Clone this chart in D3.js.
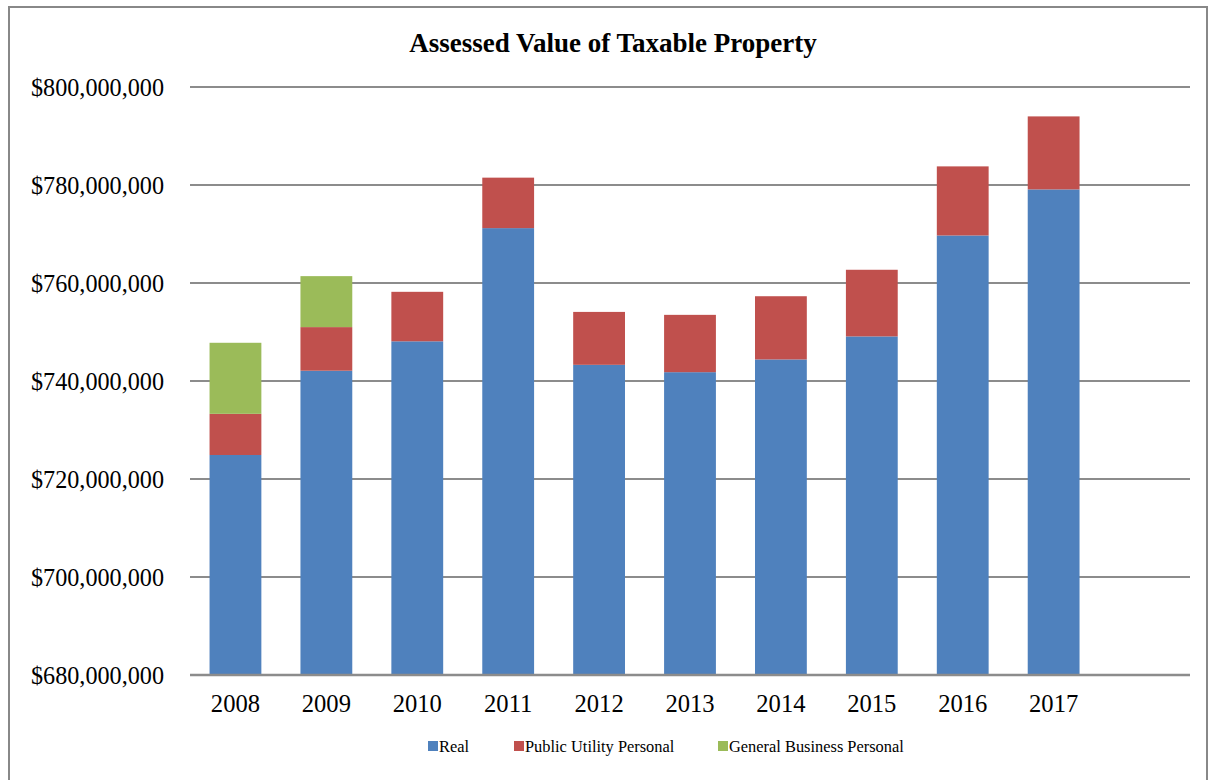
<!DOCTYPE html>
<html>
<head>
<meta charset="utf-8">
<script src="https://cdn.jsdelivr.net/npm/d3@7"></script>
<style>
  body { margin: 0; background: #fff; }
  text { font-family: "Liberation Serif", "Times New Roman", serif; fill: #000; }
</style>
</head>
<body>
<script>
// Les données
var years = ["2008", "2009", "2010", "2011", "2012", "2013", "2014", "2015", "2016", "2017"];
var real = [724.9, 742.1, 748.1, 771.2, 743.3, 741.8, 744.4, 749.1, 769.7, 779.1];
var publicUtility = [8.4, 8.9, 10.1, 10.3, 10.8, 11.7, 12.9, 13.6, 14.1, 14.9];
var generalBusiness = [14.5, 10.4, 0, 0, 0, 0, 0, 0, 0, 0];
var seriesNames = ["Real", "Public Utility Personal", "General Business Personal"];
var colors = ["#4F81BD", "#C0504D", "#9BBB59"];
var yTicks = [680, 700, 720, 740, 760, 780, 800];

var W = 1209, H = 780;
var margin = {top: 87, right: 19, bottom: 105, left: 190};
var width = W - margin.left - margin.right;
var height = H - margin.top - margin.bottom;

var svg = d3.select("body").append("svg")
            .attr("width", W)
            .attr("height", H);

// cadre
svg.append("rect")
   .attr("x", 9).attr("y", 7)
   .attr("width", 1198).attr("height", 780)
   .attr("fill", "none")
   .attr("stroke", "#888")
   .attr("stroke-width", 2);

svg.append("text")
   .attr("x", 613).attr("y", 52)
   .attr("text-anchor", "middle")
   .style("font-size", "27px")
   .style("font-weight", "bold")
   .text("Assessed Value of Taxable Property");

var g = svg.append("g")
           .attr("transform", "translate(" + margin.left + "," + margin.top + ")");

// une case vide après 2017
var x = d3.scaleBand()
          .domain(years.concat(["_"]))
          .range([0, width])
          .paddingInner(0.43)
          .paddingOuter(0.215);

var y = d3.scaleLinear()
          .domain([680, 800])
          .range([height, 0]);

// grille
g.selectAll(".grid")
 .data(yTicks)
 .enter().append("line")
 .attr("x1", 0).attr("x2", width)
 .attr("y1", d => y(d)).attr("y2", d => y(d))
 .attr("stroke", "#8c8c8c")
 .attr("stroke-width", 2);

// barres empilées
var table = years.map((yr, i) => ({year: yr, s0: real[i] - 680, s1: publicUtility[i], s2: generalBusiness[i]}));
var stack = d3.stack().keys(["s0", "s1", "s2"]);
var layers = stack(table);

g.selectAll(".layer")
 .data(layers)
 .enter().append("g")
 .attr("fill", (d, i) => colors[i])
 .selectAll("rect")
 .data(d => d.filter(p => p[1] > p[0]))
 .enter().append("rect")
 .attr("x", d => x(d.data.year))
 .attr("width", x.bandwidth())
 .attr("y", d => y(680 + d[1]))
 .attr("height", d => y(680 + d[0]) - y(680 + d[1]));

// axe Y
var fmt = d3.format(",");
var axeY = d3.axisLeft(y)
             .tickValues(yTicks)
             .tickSize(0)
             .tickPadding(26)
             .tickFormat(d => "$" + fmt(d * 1000000));
var gy = g.append("g").call(axeY);
gy.select(".domain").remove();
gy.selectAll("text").style("font-size", "24.2px").attr("dy", "0.35em");

// axe X
var axeX = d3.axisBottom(x)
             .tickSize(0)
             .tickPadding(20)
             .tickFormat(d => d === "_" ? "" : d);
var gx = g.append("g")
          .attr("transform", "translate(0," + height + ")")
          .call(axeX);
gx.select(".domain").remove();
gx.selectAll("text").style("font-size", "24.6px");

g.append("line")
 .attr("x1", 0).attr("x2", width)
 .attr("y1", height).attr("y2", height)
 .attr("stroke", "#8c8c8c")
 .attr("stroke-width", 2.5);

// légende
var legendX = [428, 514, 718];
var leg = svg.selectAll(".leg")
             .data(seriesNames)
             .enter().append("g")
             .attr("transform", (d, i) => "translate(" + legendX[i] + ",741)");
leg.append("rect")
   .attr("width", 10).attr("height", 10)
   .attr("fill", (d, i) => colors[i]);
leg.append("text")
   .attr("x", 11).attr("y", 11)
   .style("font-size", "16.4px")
   .text(d => d);
</script>
</body>
</html>
